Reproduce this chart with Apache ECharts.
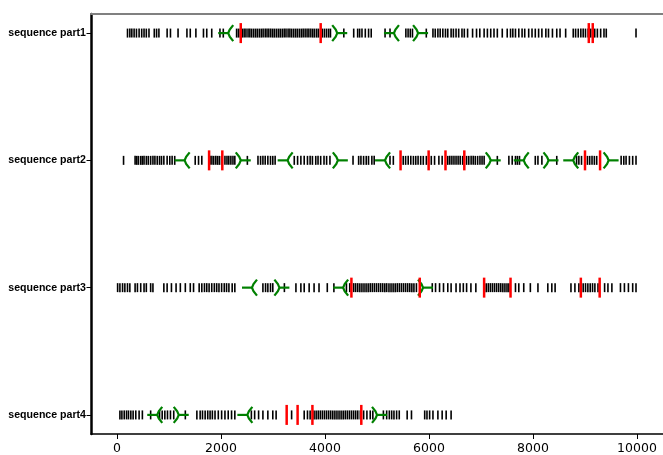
<!DOCTYPE html>
<html>
<head>
<meta charset="utf-8">
<script src="https://cdn.jsdelivr.net/npm/echarts@6/dist/echarts.min.js"></script>
<style>
  html, body { margin: 0; padding: 0; background: #fff; }
  #chart { width: 663px; height: 455px; }
</style>
</head>
<body>
<div id="chart"></div>
<script>
var rowNames = ['sequence part1', 'sequence part2', 'sequence part3', 'sequence part4'];
var xTickValues = [0, 2000, 4000, 6000, 8000, 10000];

// black feature ticks per row
var ticks1 = [202, 247, 285, 329, 374, 425, 475, 520, 564, 615, 717, 761, 806, 964, 1028, 1174, 1345, 1409, 1517, 1663, 1726, 1822, 1980, 2044,
  2300, 2335, 2372, 2410, 2445, 2480, 2520, 2555, 2590, 2628, 2665, 2700, 2738, 2775, 2810, 2850, 2885, 2920, 2958, 2995, 3030, 3068, 3105, 3140,
  3178, 3215, 3250, 3290, 3325, 3360, 3398, 3435, 3470, 3508, 3545, 3580, 3618, 3655, 3690, 3728, 3765, 3800, 3840, 3875, 3950, 3990, 4030, 4070, 4105,
  4362, 4552, 4628, 4666, 4711, 4775, 4838, 4889, 5155, 5250, 5555, 5598, 5640, 5682, 5948, 6076, 6120, 6171, 6215, 6266, 6317, 6361, 6425, 6469,
  6520, 6571, 6634, 6679, 6742, 6838, 6914, 6977, 7060, 7123, 7187, 7250, 7314, 7409, 7504, 7568, 7612, 7663, 7727, 7790, 7841, 7917, 7981, 8044,
  8108, 8171, 8247, 8298, 8374, 8457, 8520, 8628, 8774, 8819, 8870, 8920, 8965, 9009, 9060, 9110, 9187, 9238, 9301, 9365, 9409, 9981];
var ticks2 = [126, 348, 380, 412, 456, 488, 520, 564, 602, 647, 691, 729, 774, 818, 856, 901, 964, 1015, 1060, 1110, 1504, 1568, 1631,
  1790, 1825, 1860, 1900, 1935, 1970, 2012, 2076, 2115, 2150, 2190, 2230, 2266, 2507, 2711, 2761, 2806, 2850, 2901, 2952, 2996, 3041,
  3409, 3473, 3536, 3600, 3663, 3714, 3758, 3822, 3866, 3917, 3981, 4031, 4095, 4539, 4647, 4691, 4742, 4793, 4837, 4901, 4946,
  5250, 5314, 5504, 5550, 5600, 5650, 5700, 5745, 5790, 5840, 5890, 5949, 6044, 6107, 6190, 6253, 6361, 6400, 6440, 6480, 6520, 6560, 6600, 6647,
  6723, 6765, 6810, 6850, 6890, 6935, 6980, 7020, 7060, 7314, 7536, 7600, 7663, 7700, 7740, 8044, 8095, 8171, 8457, 8838, 8882, 8933,
  9047, 9090, 9135, 9180, 9225, 9695, 9746, 9790, 9854, 9917, 9981];
var ticks3 = [12, 56, 107, 151, 202, 247, 348, 393, 456, 520, 564, 647, 691, 901, 964, 1047, 1136, 1218, 1314, 1409, 1472, 1580, 1631, 1682,
  1726, 1771, 1822, 1872, 1917, 1961, 2012, 2063, 2107, 2152, 2215, 2266, 2806, 2857, 2901, 2952, 2996, 3219, 3441, 3536, 3600, 3695, 3790,
  3885, 4044, 4171, 4412, 4476, 4552, 4590, 4630, 4670, 4710, 4750, 4790, 4830, 4870, 4910, 4950, 4990, 5030, 5070, 5110, 5150, 5187, 5230,
  5270, 5310, 5350, 5390, 5430, 5470, 5510, 5550, 5590, 5630, 5670, 5710, 5758, 6063, 6126, 6203, 6279, 6361, 6425, 6520, 6596, 6660, 6723,
  6806, 6901, 7100, 7140, 7180, 7220, 7260, 7300, 7340, 7380, 7420, 7460, 7500, 7536, 7663, 7727, 7822, 7949, 8095, 8285, 8362, 8425, 8730,
  8806, 8882, 8965, 9010, 9055, 9100, 9145, 9190, 9250, 9377, 9441, 9517, 9682, 9758, 9835, 9917, 9981];
var ticks4 = [56, 94, 139, 183, 221, 266, 310, 361, 425, 488, 647, 818, 869, 920, 971, 1028, 1091, 1314, 1536, 1599, 1644, 1695, 1745, 1790,
  1834, 1885, 1948, 2012, 2076, 2139, 2203, 2266, 2584, 2647, 2723, 2806, 2901, 2996, 3060, 3358, 3600, 3663, 3714, 3790, 3830, 3870, 3910,
  3950, 3990, 4030, 4070, 4110, 4150, 4190, 4230, 4270, 4310, 4350, 4390, 4430, 4470, 4510, 4550, 4590, 4630, 4679, 4743, 4806, 4870, 4920,
  5123, 5186, 5237, 5282, 5326, 5377, 5428, 5580, 5663, 5917, 5961, 6012, 6076, 6171, 6253, 6330, 6425];

// red sites per row
var reds1 = [2380, 3917, 9073, 9149];
var reds2 = [1771, 2025, 5453, 5993, 6317, 6679, 9000, 9290];
var reds3 = [4508, 5822, 7060, 7568, 8920, 9282];
var reds4 = [3263, 3473, 3758, 4698];

// green arrows: -1 = stem on the left ("-<"), 1 = stem on the right (">-")
var greens1 = [[2139, -1], [4235, 1], [5326, -1], [5790, 1]];
var greens2 = [[1301, -1], [2380, 1], [3282, -1], [4247, 1], [5155, -1], [7187, 1], [7822, -1], [8298, 1], [8774, -1], [9454, 1]];
var greens3 = [[2596, -1], [3123, 1], [4349, -1], [5885, 1]];
var greens4 = [[774, -1], [1187, 1], [2507, -1], [5000, 1]];

var tickRows = [ticks1, ticks2, ticks3, ticks4];
var redRows = [reds1, reds2, reds3, reds4];
var greenRows = [greens1, greens2, greens3, greens4];

var tickData = [], redData = [], greenData = [];
tickRows.forEach(function (arr, i) { arr.forEach(function (v) { tickData.push([v, i]); }); });
redRows.forEach(function (arr, i) { arr.forEach(function (v) { redData.push([v, i]); }); });
greenRows.forEach(function (arr, i) { arr.forEach(function (g) { greenData.push([g[0], i, g[1]]); }); });

function vline(half, color, width) {
    return function (params, api) {
        var p = api.coord([api.value(0), api.value(1)]);
        return {
            type: 'line',
            shape: { x1: p[0], y1: p[1] - half, x2: p[0], y2: p[1] + half },
            style: { stroke: color, lineWidth: width }
        };
    };
}

function arrow(params, api) {
    var p = api.coord([api.value(0), api.value(1)]);
    var d = api.value(2);   // side of the stem
    var a = -d;             // side the arms open to
    return {
        type: 'group',
        children: [{
            type: 'line',
            shape: { x1: p[0], y1: p[1], x2: p[0] + d * 10, y2: p[1] },
            style: { stroke: '#008000', lineWidth: 2.2 }
        }, {
            type: 'polyline',
            shape: { points: [[p[0] + a * 5, p[1] - 8], [p[0] + a * 1.5, p[1] - 3.5], [p[0], p[1]],
                              [p[0] + a * 1.5, p[1] + 3.5], [p[0] + a * 5, p[1] + 8]] },
            style: { stroke: '#008000', lineWidth: 2.2, fill: null }
        }]
    };
}

var chart = echarts.init(document.getElementById('chart'));

chart.setOption({
    animation: false,
    grid: { left: 91, top: 14, width: 578, height: 421 },
    xAxis: [{
        type: 'value',
        min: -500,
        max: 10500,
        splitLine: { show: false },
        axisLine: { onZero: false, lineStyle: { color: '#000', width: 1.5 } },
        axisTick: { customValues: xTickValues, length: 5, lineStyle: { color: '#000', width: 1 } },
        axisLabel: {
            customValues: xTickValues,
            formatter: function (v) { return String(v); },
            color: '#000', fontFamily: 'DejaVu Sans', fontSize: 12.5, margin: 8
        }
    }, {
        type: 'value',
        position: 'top',
        min: -500,
        max: 10500,
        splitLine: { show: false },
        axisLine: { show: true, onZero: false, lineStyle: { color: '#808080', width: 2 } },
        axisTick: { show: false },
        axisLabel: { show: false }
    }],
    yAxis: {
        type: 'value',
        min: -0.15,
        max: 3.15,
        inverse: true,
        splitLine: { show: false },
        axisLine: { show: true, onZero: false, lineStyle: { color: '#000', width: 2.5 } },
        axisTick: { show: true, customValues: [0, 1, 2, 3], length: 4.5, lineStyle: { color: '#000', width: 1 } },
        axisLabel: {
            customValues: [0, 1, 2, 3],
            formatter: function (v) { return rowNames[Math.round(v)]; },
            color: '#000', fontFamily: 'Liberation Sans', fontWeight: 'bold', fontSize: 10.6, margin: 5
        }
    },
    series: [{
        type: 'custom',
        renderItem: vline(4.5, '#000', 1.6),
        data: tickData,
        z: 2
    }, {
        type: 'custom',
        renderItem: arrow,
        data: greenData,
        z: 3
    }, {
        type: 'custom',
        renderItem: vline(10, '#ff0000', 2.5),
        data: redData,
        z: 4
    }]
});
</script>
</body>
</html>
